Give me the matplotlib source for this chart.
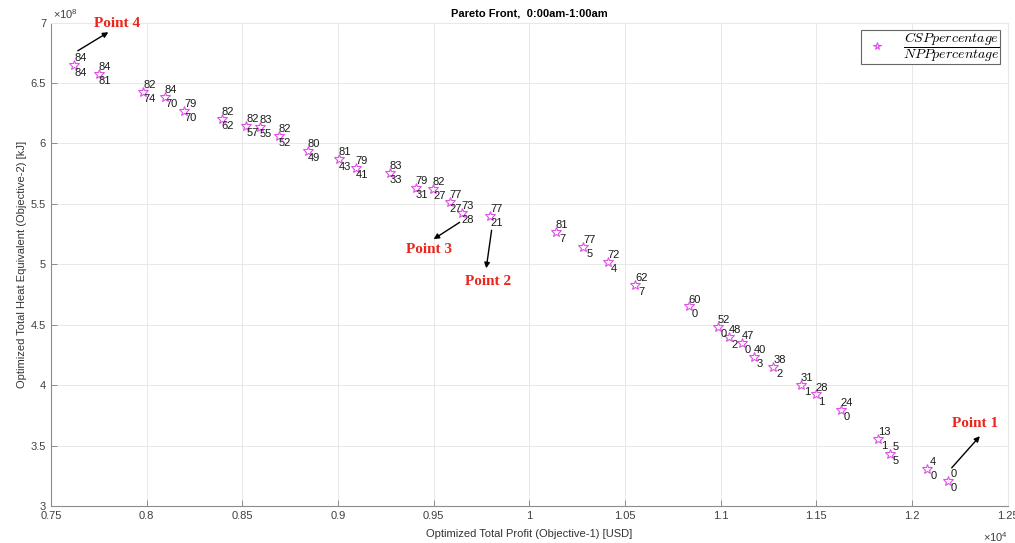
import numpy as np
import matplotlib
matplotlib.use('Agg')
import matplotlib.pyplot as plt
from matplotlib.ticker import FuncFormatter, MultipleLocator

plt.rcParams['font.family'] = ['Liberation Sans', 'DejaVu Sans']
plt.rcParams['mathtext.fontset'] = 'cm'

# Pareto front points (profit in USD, heat in kJ) and their labels
profit = np.array([0.7623, 0.7749, 0.7983, 0.8097, 0.8196, 0.8393, 0.8521, 0.8592,
                   0.8692, 0.8843, 0.9003, 0.9094, 0.9270, 0.9406, 0.9498, 0.9585,
                   0.9646, 0.9796, 1.0140, 1.0282, 1.0412, 1.0554, 1.0835, 1.0986,
                   1.1043, 1.1112, 1.1174, 1.1276, 1.1419, 1.1497, 1.1629, 1.1825,
                   1.1885, 1.2080, 1.2187]) * 1e4
heat = np.array([6.646, 6.577, 6.426, 6.382, 6.272, 6.206, 6.148, 6.135,
                 6.060, 5.937, 5.868, 5.800, 5.753, 5.633, 5.625, 5.517,
                 5.425, 5.400, 5.267, 5.147, 5.022, 4.830, 4.651, 4.485,
                 4.396, 4.350, 4.232, 4.150, 4.000, 3.923, 3.795, 3.554,
                 3.432, 3.308, 3.208]) * 1e8
csp_pct = [84, 84, 82, 84, 79, 82, 82, 83, 82, 80, 81, 79, 83, 79, 82, 77, 73, 77,
           81, 77, 72, 62, 60, 52, 48, 47, 40, 38, 31, 28, 24, 13, 5, 4, 0]
npp_pct = [84, 81, 74, 70, 70, 62, 57, 55, 52, 49, 43, 41, 33, 31, 27, 27, 28, 21,
           7, 5, 4, 7, 0, 0, 2, 0, 3, 2, 1, 1, 0, 1, 5, 0, 0]

# highlighted points: name, text pos, arrow tail, arrow head (x in 1e4 USD, y in 1e8 kJ)
pt_names = ['Point 1', 'Point 2', 'Point 3', 'Point 4']
pt_text = [(1.233, 3.68), (0.9787, 4.86), (0.9476, 5.12), (0.7845, 6.99)]
pt_tail = [(1.2208, 3.316), (0.9803, 5.281), (0.9636, 5.347), (0.764, 6.766)]
pt_head = [(1.2355, 3.578), (0.9775, 4.967), (0.950, 5.208), (0.780, 6.920)]

fig = plt.figure(figsize=(10.15, 5.43), dpi=100)
ax = fig.add_axes([0.0502, 0.0681, 0.9425, 0.8904])

star_col = '#e050e8'
ax.plot(profit, heat, ls='none', marker='*', ms=7, mfc='none', mec=star_col, mew=0.8,
        label=r'$\dfrac{CSPpercentage}{NPPpercentage}$')

for x, y, c, n in zip(profit, heat, csp_pct, npp_pct):
    ax.annotate(str(c), (x, y), xytext=(4.3, 5), textcoords='offset points',
                ha='center', va='center', fontsize=8, color='#1a1a1a')
    ax.annotate(str(n), (x, y), xytext=(4.3, -5.2), textcoords='offset points',
                ha='center', va='center', fontsize=8, color='#1a1a1a')

for name, tp, tl, hd in zip(pt_names, pt_text, pt_tail, pt_head):
    ax.annotate('', xy=(hd[0] * 1e4, hd[1] * 1e8), xytext=(tl[0] * 1e4, tl[1] * 1e8),
                arrowprops=dict(arrowstyle='-|>', color='k', lw=1, mutation_scale=8,
                                shrinkA=0, shrinkB=0))
    ax.text(tp[0] * 1e4, tp[1] * 1e8, name, ha='center', va='center', color='#e8261c',
            fontsize=11, fontweight='bold', family='Liberation Serif')

ax.set_xlim(7500, 12500)
ax.set_ylim(3e8, 7e8)
ax.xaxis.set_major_locator(MultipleLocator(500))
ax.yaxis.set_major_locator(MultipleLocator(0.5e8))
ax.xaxis.set_major_formatter(FuncFormatter(lambda v, p: f'{v / 1e4:g}'))
ax.yaxis.set_major_formatter(FuncFormatter(lambda v, p: f'{v / 1e8:g}'))

ax.grid(True, color='#e8e8e8', lw=0.7)
ax.set_axisbelow(True)
for s in ['left', 'bottom']:
    ax.spines[s].set_color('#8c8c8c')
for s in ['top', 'right']:
    ax.spines[s].set_color('#e8e8e8')
ax.tick_params(direction='in', length=4, width=0.7, color='#8c8c8c',
               labelsize=8, labelcolor='#404040')

ax.set_xlabel('Optimized Total Profit (Objective-1) [USD]', fontsize=8, color='#333333', labelpad=6)
ax.set_ylabel('Optimized Total Heat Equivalent (Objective-2) [kJ]', fontsize=8, color='#333333', labelpad=3)
ax.set_title('Pareto Front,  0:00am-1:00am', fontsize=8, fontweight='bold', pad=4)

ax.text(0.002, 1.004, r'$\mathregular{\times10^{8}}$', transform=ax.transAxes, ha='left', va='bottom',
        fontsize=8, color='#404040')
ax.text(1.0, -0.064, r'$\mathregular{\times10^{4}}$', transform=ax.transAxes, ha='right', va='center',
        fontsize=8, color='#404040')

leg = ax.legend(loc='upper right', bbox_to_anchor=(0.992, 0.984), borderaxespad=0,
                fancybox=False, framealpha=1, edgecolor='#666666', fontsize=10,
                handletextpad=0.8, borderpad=0.0, handlelength=2.2)
leg.get_frame().set_linewidth(0.8)
leg.legend_handles[0].set_markersize(5.5)

fig.savefig('out.png', dpi=100)
